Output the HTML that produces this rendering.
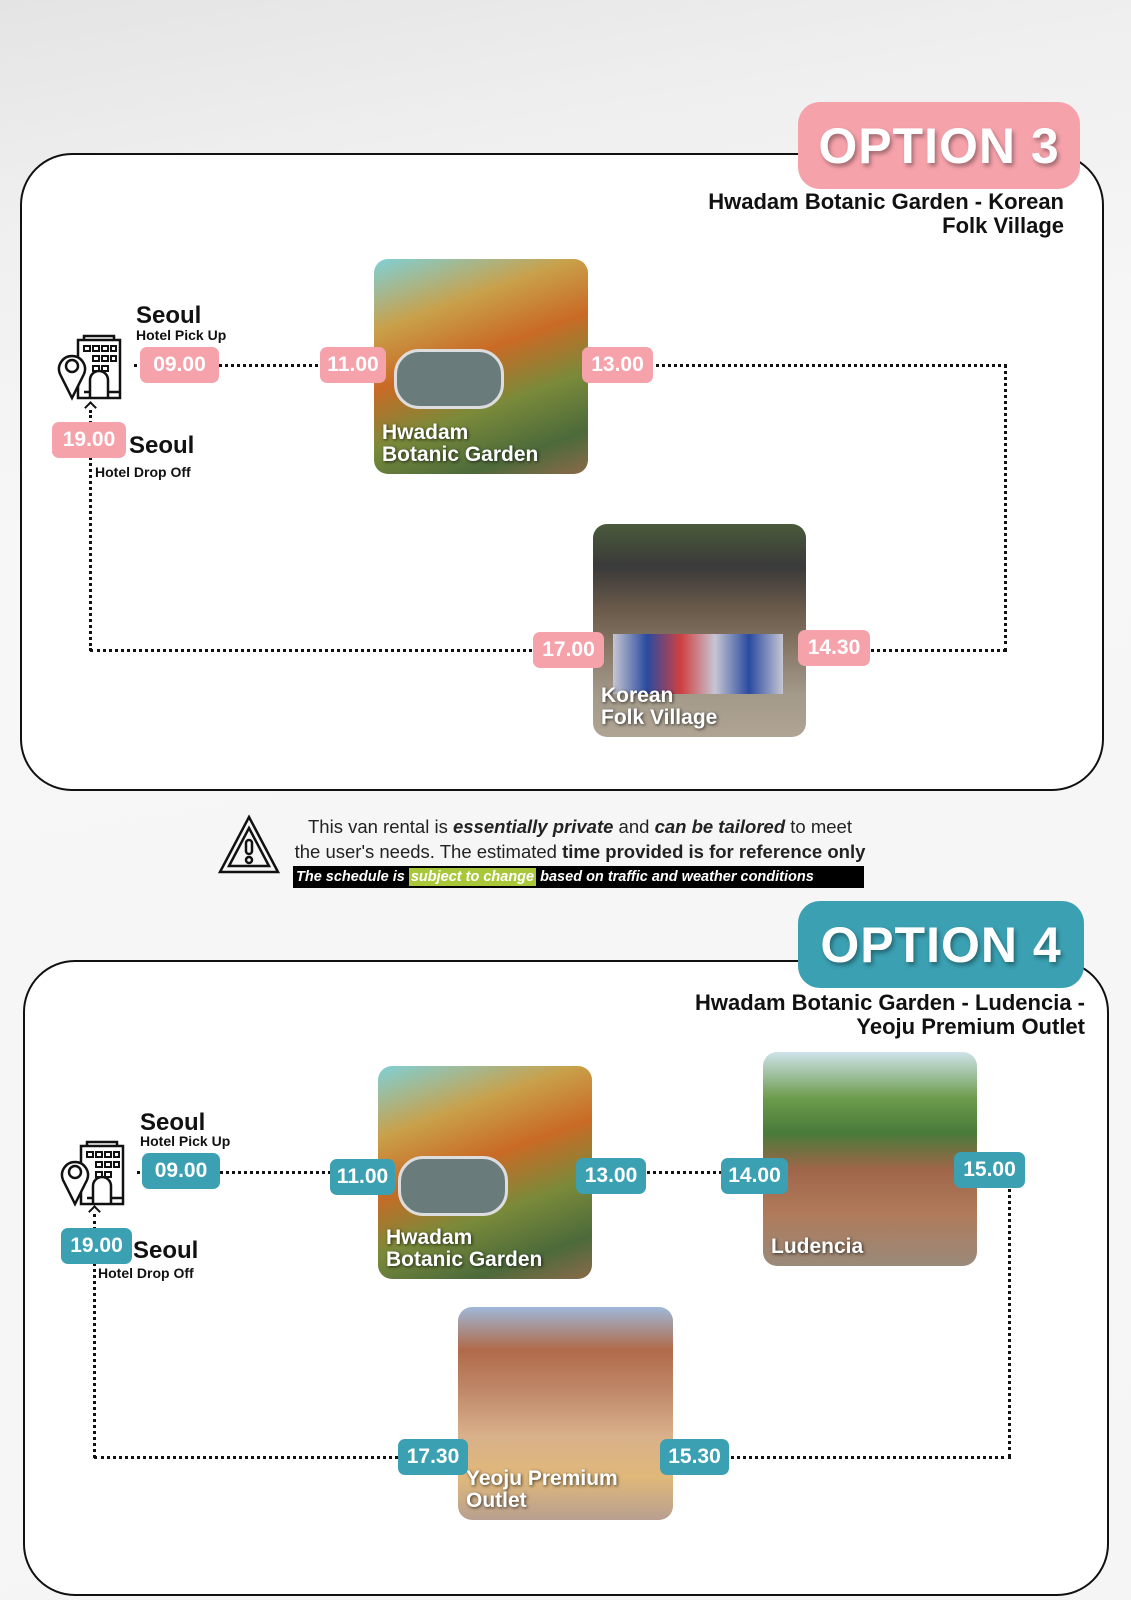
<!DOCTYPE html>
<html><head><meta charset="utf-8"><style>
*{margin:0;padding:0;box-sizing:border-box}
body{width:1131px;height:1600px;position:relative;overflow:hidden;font-family:"Liberation Sans",sans-serif;background:linear-gradient(170deg,#e4e4e4 0%,#efefef 12%,#f7f7f7 30%,#f5f5f5 100%)}
.a{position:absolute}
.box{position:absolute;border:2.5px solid #111;border-radius:52px;background:#fff}
.badge{position:absolute;border-radius:22px;color:#fff;font-weight:bold;font-size:50px;display:flex;align-items:center;justify-content:center;text-shadow:2px 3px 4px rgba(0,0,0,.35);letter-spacing:1px}
.t{position:absolute;border-radius:7px;color:#fff;font-weight:bold;font-size:21px;display:flex;align-items:center;justify-content:center;height:36px}
.p{background:#f6a2ab}.b{background:#3aa0b2}
.sub{position:absolute;text-align:right;font-weight:bold;font-size:22px;line-height:24px;color:#111}
.h{position:absolute;border-top:3px dotted #111;height:0}
.v{position:absolute;border-left:3px dotted #111;width:0}
.img{position:absolute;border-radius:14px;overflow:hidden}
.img span{position:absolute;left:8px;bottom:8px;color:#fff;font-weight:bold;font-size:21px;line-height:22px;text-shadow:1px 1px 3px rgba(0,0,0,.7)}
.s1{position:absolute;font-weight:bold;font-size:24px;color:#111}
.s2{position:absolute;font-weight:bold;font-size:14px;color:#111}
.arr{position:absolute;width:9px;height:9px;border-left:2.5px solid #111;border-top:2.5px solid #111;transform:rotate(45deg)}
</style></head><body>

<!-- OPTION 3 -->
<div class="box" style="left:20px;top:153px;width:1084px;height:638px"></div>
<div class="badge p" style="left:798px;top:102px;width:282px;height:87px">OPTION 3</div>
<div class="sub" style="right:67px;top:190px">Hwadam Botanic Garden - Korean<br>Folk Village</div>

<svg class="a" style="left:56px;top:334px" width="68" height="68" viewBox="0 0 68 68" fill="none" stroke="#111" stroke-width="2.5">
<rect x="22" y="6" width="42" height="58"/><path d="M28 6v-4h30v4"/>
<g stroke-width="2"><rect x="28" y="12" width="6" height="5"/><rect x="37" y="12" width="6" height="5"/><rect x="46" y="12" width="6" height="5"/><rect x="55" y="12" width="5" height="5"/><rect x="37" y="22" width="6" height="5"/><rect x="46" y="22" width="6" height="5"/><rect x="55" y="22" width="5" height="5"/><rect x="37" y="32" width="6" height="5"/><rect x="46" y="32" width="6" height="5"/></g>
<path d="M34 64v-18a9 9 0 0 1 18 0v18"/><path d="M28 58h6M52 58h12"/>
<path d="M16 64 L4 40 A13 13 0 1 1 28 40 Z" fill="#fff"/><circle cx="16" cy="32" r="6"/>
</svg>
<div class="s1" style="left:136px;top:302px">Seoul</div>
<div class="s2" style="left:136px;top:327px">Hotel Pick Up</div>
<div class="h" style="left:134px;top:364px;width:190px"></div>
<div class="t p" style="left:140px;top:347px;width:79px">09.00</div>
<div class="img" style="left:374px;top:259px;width:214px;height:215px;background:linear-gradient(160deg,#7fd0d6 0%,#c9a04a 25%,#c96a25 45%,#7a8a3a 65%,#4c6a3a 85%,#8a6a4a 100%)">
<div class="a" style="left:20px;top:90px;width:110px;height:60px;border-radius:25px;background:#6a7b7c;border:3px solid #ddd"></div>
<span>Hwadam<br>Botanic Garden</span></div>
<div class="t p" style="left:320px;top:347px;width:66px">11.00</div>
<div class="h" style="left:650px;top:364px;width:357px"></div>
<div class="v" style="left:1004px;top:364px;height:288px"></div>
<div class="t p" style="left:582px;top:347px;width:71px">13.00</div>
<div class="h" style="left:90px;top:649px;width:916px"></div>
<div class="v" style="left:89px;top:410px;height:241px"></div>
<div class="arr" style="left:86px;top:403px"></div>
<div class="img" style="left:593px;top:524px;width:213px;height:213px;background:linear-gradient(180deg,#4a5a3a 0%,#3a3a3a 20%,#6a5a4a 40%,#8a7a6a 60%,#a39a8a 80%,#b0a494 100%)">
<div class="a" style="left:20px;top:110px;width:170px;height:60px;background:linear-gradient(90deg,#c6c6d2,#2a4aa0,#d04040,#c6c6d2,#2a4aa0,#c6c6d2)"></div>
<span>Korean<br>Folk Village</span></div>
<div class="t p" style="left:798px;top:630px;width:72px">14.30</div>
<div class="t p" style="left:533px;top:632px;width:71px">17.00</div>
<div class="t p" style="left:52px;top:422px;width:74px">19.00</div>
<div class="s1" style="left:129px;top:432px">Seoul</div>
<div class="s2" style="left:95px;top:464px">Hotel Drop Off</div>

<!-- Notice -->
<svg class="a" style="left:217px;top:814px" width="64" height="62" viewBox="0 0 64 62" fill="none" stroke="#111" stroke-width="2.5">
<path d="M32 3 L61 58 H3 Z"/><path d="M32 14 L52 52 H12 Z"/><rect x="29" y="26" width="6" height="14" rx="3"/><circle cx="32" cy="46" r="3"/>
</svg>
<div class="a" style="left:270px;top:814px;width:620px;text-align:center;font-size:18.5px;line-height:25px;color:#222;white-space:nowrap">This van rental is <b><i>essentially private</i></b> and <b><i>can be tailored</i></b> to meet<br>the user's needs. The estimated <b>time provided is for reference only</b></div>
<div class="a" style="left:293px;top:866px;width:571px;height:22px;background:#000;color:#fff;font-size:14.5px;font-weight:bold;font-style:italic;line-height:22px;padding-left:3px;white-space:nowrap">The schedule is <span style="background:#a8c83a;padding:1px 2px">subject to change</span> based on traffic and weather conditions</div>

<!-- OPTION 4 -->
<div class="box" style="left:23px;top:960px;width:1086px;height:636px"></div>
<div class="badge b" style="left:798px;top:901px;width:286px;height:87px">OPTION 4</div>
<div class="sub" style="right:46px;top:991px">Hwadam Botanic Garden - Ludencia -<br>Yeoju Premium Outlet</div>

<svg class="a" style="left:59px;top:1140px" width="68" height="68" viewBox="0 0 68 68" fill="none" stroke="#111" stroke-width="2.5">
<rect x="22" y="6" width="42" height="58"/><path d="M28 6v-4h30v4"/>
<g stroke-width="2"><rect x="28" y="12" width="6" height="5"/><rect x="37" y="12" width="6" height="5"/><rect x="46" y="12" width="6" height="5"/><rect x="55" y="12" width="5" height="5"/><rect x="37" y="22" width="6" height="5"/><rect x="46" y="22" width="6" height="5"/><rect x="55" y="22" width="5" height="5"/><rect x="37" y="32" width="6" height="5"/><rect x="46" y="32" width="6" height="5"/></g>
<path d="M34 64v-18a9 9 0 0 1 18 0v18"/><path d="M28 58h6M52 58h12"/>
<path d="M16 64 L4 40 A13 13 0 1 1 28 40 Z" fill="#fff"/><circle cx="16" cy="32" r="6"/>
</svg>
<div class="s1" style="left:140px;top:1109px">Seoul</div>
<div class="s2" style="left:140px;top:1133px">Hotel Pick Up</div>
<div class="h" style="left:137px;top:1171px;width:200px"></div>
<div class="t b" style="left:142px;top:1153px;width:78px">09.00</div>
<div class="img" style="left:378px;top:1066px;width:214px;height:213px;background:linear-gradient(160deg,#7fd0d6 0%,#c9a04a 25%,#c96a25 45%,#7a8a3a 65%,#4c6a3a 85%,#8a6a4a 100%)">
<div class="a" style="left:20px;top:90px;width:110px;height:60px;border-radius:25px;background:#6a7b7c;border:3px solid #ddd"></div>
<span>Hwadam<br>Botanic Garden</span></div>
<div class="t b" style="left:330px;top:1159px;width:65px">11.00</div>
<div class="h" style="left:640px;top:1171px;width:90px"></div>
<div class="img" style="left:763px;top:1052px;width:214px;height:214px;background:linear-gradient(180deg,#cfe3ea 0%,#6a9a4a 22%,#4a7a3a 38%,#a0664a 55%,#b07a5a 75%,#9a8a7a 100%)">
<span>Ludencia</span></div>
<div class="t b" style="left:576px;top:1158px;width:70px">13.00</div>
<div class="t b" style="left:721px;top:1158px;width:67px">14.00</div>
<div class="h" style="left:94px;top:1456px;width:917px"></div>
<div class="v" style="left:1008px;top:1170px;height:288px"></div>
<div class="v" style="left:93px;top:1214px;height:244px"></div>
<div class="arr" style="left:90px;top:1207px"></div>
<div class="t b" style="left:954px;top:1152px;width:71px">15.00</div>
<div class="img" style="left:458px;top:1307px;width:215px;height:213px;background:linear-gradient(180deg,#9fb8d8 0%,#b06a4a 20%,#c08a6a 40%,#d8b08a 60%,#e0b87a 80%,#b8a090 100%)">
<span>Yeoju Premium<br>Outlet</span></div>
<div class="t b" style="left:660px;top:1439px;width:69px">15.30</div>
<div class="t b" style="left:398px;top:1439px;width:70px">17.30</div>
<div class="t b" style="left:61px;top:1228px;width:71px">19.00</div>
<div class="s1" style="left:133px;top:1237px">Seoul</div>
<div class="s2" style="left:98px;top:1265px">Hotel Drop Off</div>
</body></html>
